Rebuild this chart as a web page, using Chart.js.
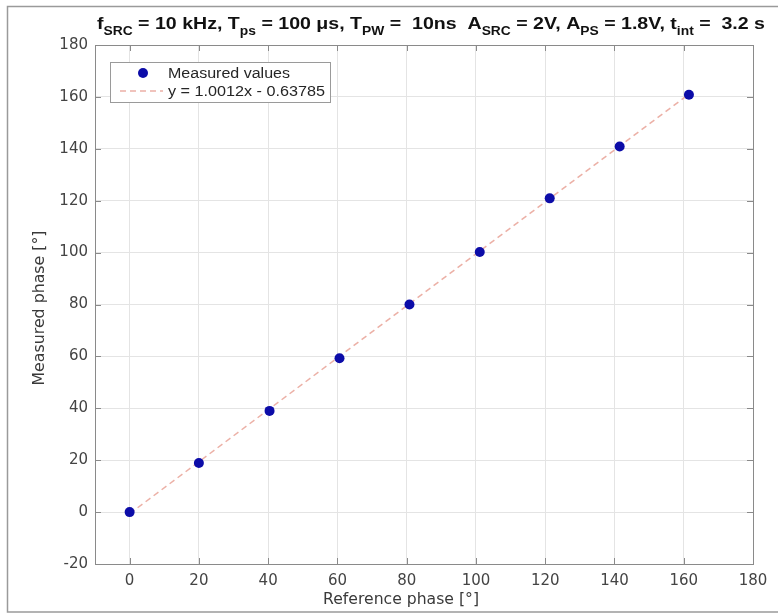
<!DOCTYPE html>
<html>
<head>
<meta charset="utf-8">
<script src="https://cdn.jsdelivr.net/npm/chart.js@4.4.1/dist/chart.umd.min.js"></script>
<style>
html,body{margin:0;padding:0;background:#fff;}
#wrap{width:778px;height:615px;}
</style>
</head>
<body>
<div id="wrap"><canvas id="c" width="778" height="615"></canvas></div>
<script>
// ---- data ----
const referencePhase = [0, 20, 40.4, 60.6, 80.8, 101.1, 121.3, 141.5, 161.5];
const measuredPhase  = [0, 18.9, 39.0, 59.3, 80.0, 100.2, 120.9, 140.9, 160.8];
const fitX = [0, 161.5];
const fitY = [-0.638, 161.06];
const seriesLabels = ['Measured values', 'y = 1.0012x - 0.63785'];
const xTicks = [0, 20, 40, 60, 80, 100, 120, 140, 160, 180];
const yTicks = [-20, 0, 20, 40, 60, 80, 100, 120, 140, 160, 180];
const xTitle = 'Reference phase [°]';
const yTitle = 'Measured phase [°]';
const titleParts = [
  ['f',''],['SRC','sub'],[' = 10 kHz, T',''],['ps','sub'],[' = 100 μs, T',''],['PW','sub'],
  [' =  10ns  A',''],['SRC','sub'],[' = 2V, A',''],['PS','sub'],[' = 1.8V, t',''],['int','sub'],[' =  3.2 s','']
];

const POINT_COLOR = '#0c0ca8';
const FIT_COLOR = '#ecb0a6';

function fitText(ctx, text, x, y, width, align) {
  const w = ctx.measureText(text).width;
  const s = width / w;
  ctx.save();
  ctx.translate(x, y);
  ctx.scale(s, 1);
  ctx.textAlign = 'left';
  ctx.fillText(text, align === 'center' ? -w / 2 : 0, 0);
  ctx.restore();
}

const decor = {
  id: 'decor',
  beforeDraw(chart) {
    const ctx = chart.ctx;
    ctx.save();
    ctx.fillStyle = '#fff';
    ctx.fillRect(0, 0, chart.width, chart.height);
    ctx.strokeStyle = '#9a9a9a';
    ctx.lineWidth = 1.5;
    ctx.beginPath();
    ctx.moveTo(778, 6.5); ctx.lineTo(7.5, 6.5); ctx.lineTo(7.5, 612); ctx.lineTo(778, 612);
    ctx.stroke();
    ctx.restore();
  },
  afterDatasetsDraw(chart) {
    const ctx = chart.ctx;
    const a = chart.chartArea;
    const xs = chart.scales.x, ys = chart.scales.y;
    ctx.save();
    ctx.strokeStyle = '#8a8a8a';
    ctx.lineWidth = 1;
    ctx.strokeRect(Math.round(a.left) + 0.5, Math.round(a.top) + 0.5, Math.round(a.right - a.left), Math.round(a.bottom - a.top));
    ctx.beginPath();
    xTicks.forEach(v => {
      const px = Math.round(xs.getPixelForValue(v)) + 0.5;
      ctx.moveTo(px, a.bottom); ctx.lineTo(px, a.bottom - 6);
      ctx.moveTo(px, a.top); ctx.lineTo(px, a.top + 6);
    });
    yTicks.forEach(v => {
      const py = Math.round(ys.getPixelForValue(v)) + 0.5;
      ctx.moveTo(a.left, py); ctx.lineTo(a.left + 6, py);
      ctx.moveTo(a.right, py); ctx.lineTo(a.right - 6, py);
    });
    ctx.stroke();

    // legend
    const lx = 110, ly = 62, lw = 220, lh = 40;
    ctx.fillStyle = '#fff';
    ctx.fillRect(lx, ly, lw, lh);
    ctx.strokeStyle = '#9a9a9a';
    ctx.strokeRect(lx + 0.5, ly + 0.5, lw, lh);
    ctx.fillStyle = POINT_COLOR;
    ctx.beginPath();
    ctx.arc(143, 73, 5, 0, Math.PI * 2);
    ctx.fill();
    ctx.strokeStyle = FIT_COLOR;
    ctx.lineWidth = 1.5;
    ctx.setLineDash([6, 4]);
    ctx.beginPath();
    ctx.moveTo(120, 91); ctx.lineTo(163, 91);
    ctx.stroke();
    ctx.setLineDash([]);
    ctx.fillStyle = '#262626';
    ctx.font = '14px "Liberation Sans", Arial, sans-serif';
    ctx.textBaseline = 'alphabetic';
    fitText(ctx, seriesLabels[0], 168, 78, 122);
    fitText(ctx, seriesLabels[1], 168, 96, 157);

    // axis titles
    ctx.fillStyle = '#3a3a3a';
    ctx.font = '15px "DejaVu Sans", sans-serif';
    ctx.textBaseline = 'middle';
    fitText(ctx, xTitle, 401, 600, 156, 'center');
    ctx.save();
    ctx.translate(40, 308);
    ctx.rotate(-Math.PI / 2);
    fitText(ctx, yTitle, 0, 0, 155, 'center');
    ctx.restore();

    // title with subscripts
    ctx.fillStyle = '#111';
    ctx.textBaseline = 'alphabetic';
    const mainFont = 'bold 17px "Liberation Sans", Arial, sans-serif';
    const subFont = 'bold 12px "Liberation Sans", Arial, sans-serif';
    let total = 0;
    const widths = titleParts.map(p => {
      ctx.font = p[1] === 'sub' ? subFont : mainFont;
      const w = ctx.measureText(p[0]).width;
      total += w;
      return w;
    });
    const scale = 668 / total;
    ctx.save();
    ctx.translate(97, 29);
    ctx.scale(scale, 1);
    let cx = 0;
    titleParts.forEach((p, i) => {
      ctx.font = p[1] === 'sub' ? subFont : mainFont;
      ctx.fillText(p[0], cx, p[1] === 'sub' ? 6 : 0);
      cx += widths[i];
    });
    ctx.restore();
    ctx.restore();
  }
};

const ctx = document.getElementById('c').getContext('2d');
new Chart(ctx, {
  type: 'scatter',
  data: {
    datasets: [
      {
        label: seriesLabels[0],
        data: referencePhase.map((x, i) => ({ x, y: measuredPhase[i] })),
        backgroundColor: POINT_COLOR,
        borderColor: POINT_COLOR,
        pointRadius: 5,
        pointHoverRadius: 5,
        borderWidth: 0
      },
      {
        type: 'line',
        label: seriesLabels[1],
        data: fitX.map((x, i) => ({ x, y: fitY[i] })),
        borderColor: FIT_COLOR,
        borderWidth: 1.5,
        borderDash: [6, 4],
        pointRadius: 0,
        fill: false,
        showLine: true
      }
    ]
  },
  options: {
    responsive: false,
    animation: false,
    layout: { padding: { top: 45, right: 25, left: 0, bottom: 0 } },
    plugins: { legend: { display: false }, tooltip: { enabled: false }, title: { display: false } },
    scales: {
      x: {
        type: 'linear', min: -10, max: 180,
        afterFit(s) { s.height = 51; },
        afterBuildTicks(s) { s.ticks = xTicks.map(v => ({ value: v })); },
        ticks: { color: '#444', font: { family: '"DejaVu Sans", sans-serif', size: 15 }, padding: 8, maxRotation: 0, autoSkip: false },
        grid: { color: '#e4e4e4', drawTicks: false, lineWidth: 1 },
        border: { display: false }
      },
      y: {
        type: 'linear', min: -20, max: 180,
        afterFit(s) { s.width = 95; },
        afterBuildTicks(s) { s.ticks = yTicks.map(v => ({ value: v })); },
        ticks: { color: '#444', font: { family: '"DejaVu Sans", sans-serif', size: 15 }, padding: 7, autoSkip: false },
        grid: { color: '#e4e4e4', drawTicks: false, lineWidth: 1 },
        border: { display: false }
      }
    }
  },
  plugins: [decor]
});
</script>
</body>
</html>
